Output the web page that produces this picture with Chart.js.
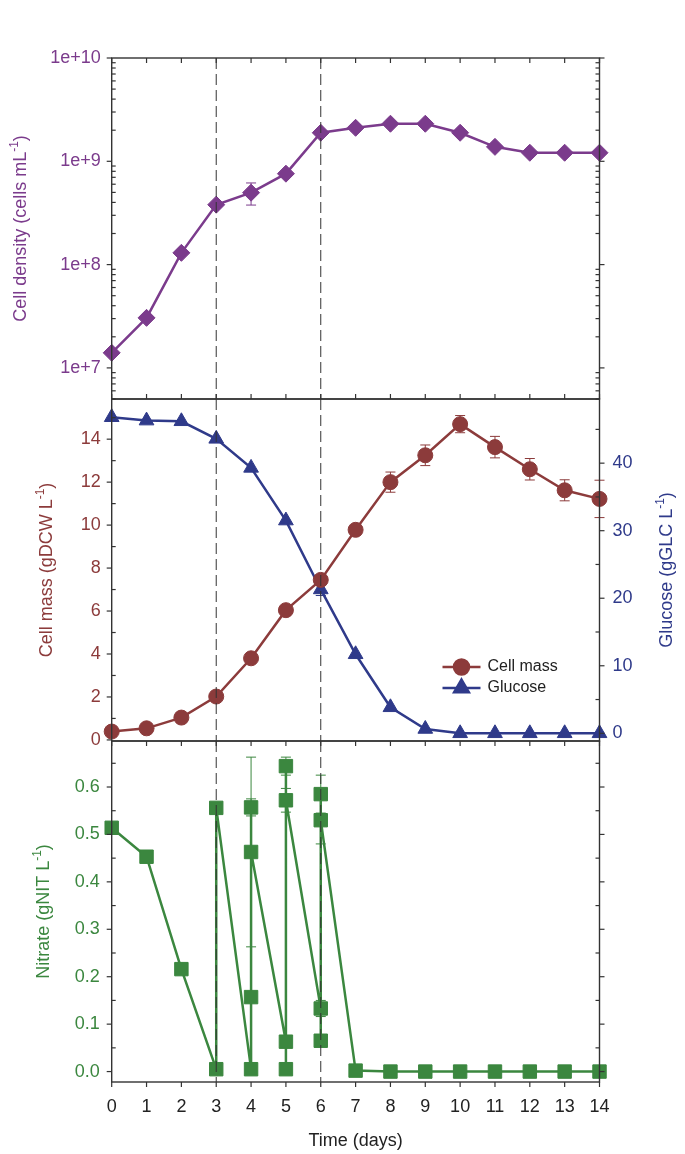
<!DOCTYPE html>
<html>
<head>
<meta charset="utf-8">
<script src="https://cdn.jsdelivr.net/npm/chart.js@4.4.1/dist/chart.umd.min.js"></script>
<style>
    html, body { margin: 0; padding: 0; background: #fff; }
    #wrap { position: relative; width: 685px; height: 1154px; }
    #wrap canvas { position: absolute; left: 0; top: 0; }
</style>
</head>
<body>
<div id="wrap">
    <canvas id="density" width="685" height="1154"></canvas>
    <canvas id="mass" width="685" height="1154"></canvas>
    <canvas id="nitrate" width="685" height="1154"></canvas>
</div>
<script>
// ---- data ----
const days = [0, 1, 2, 3, 4, 5, 6, 7, 8, 9, 10, 11, 12, 13, 14];
const feedDays = [3, 6];

const cellDensity = [1.40e7, 3.05e7, 1.30e8, 3.80e8, 4.97e8, 7.59e8, 1.89e9, 2.11e9, 2.31e9, 2.31e9, 1.89e9, 1.38e9, 1.21e9, 1.21e9, 1.21e9];
const cellDensityErr = [0, 0, 0, 0, 1.2e8, 0, 0, 1.5e8, 0, 0, 0, 0, 0, 0, 0];

const cellMass = [0.39, 0.54, 1.04, 2.02, 3.80, 6.04, 7.45, 9.78, 12.0, 13.25, 14.7, 13.63, 12.6, 11.62, 11.22];
const cellMassErr = [0, 0, 0, 0, 0, 0, 0, 0, 0.47, 0.48, 0.4, 0.5, 0.5, 0.49, 0.87];

const glucose = [46.8, 46.3, 46.2, 43.6, 39.3, 31.5, 21.3, 11.7, 3.85, 0.64, 0, 0, 0, 0, 0];
const glucoseErr = [0, 0, 0, 0, 0, 0, 0.9, 0, 0, 0, 0, 0, 0, 0, 0];

// nitrate was sampled before and after each feed, so days repeat
const nitrateDays = [0, 1, 2, 3, 3, 4, 4, 4, 4, 5, 5, 5, 5, 6, 6, 6, 6, 7, 8, 9, 10, 11, 12, 13, 14];
const nitrate = [0.514, 0.453, 0.216, 0.005, 0.556, 0.005, 0.157, 0.557, 0.463, 0.063, 0.005, 0.644, 0.572, 0.133, 0.065, 0.585, 0.530, 0.002, 0, 0, 0, 0, 0, 0, 0];
const nitrateErr = [0, 0, 0, 0, 0, 0, 0, 0.018, 0.2, 0, 0, 0.019, 0.025, 0.017, 0, 0.04, 0.05, 0, 0, 0, 0, 0, 0, 0, 0];

// tick labels
const densityTicks = [1e7, 1e8, 1e9, 1e10];
const massTicks = [0, 2, 4, 6, 8, 10, 12, 14];
const glucoseTicks = [0, 10, 20, 30, 40];
const nitrateTicks = [0, 0.1, 0.2, 0.3, 0.4, 0.5, 0.6];

const PURPLE = "#7b3b8c";
const BROWN = "#8c3b3b";
const NAVY = "#2f3a8a";
const GREEN = "#3b873f";
const INK = "#222";
const FONT = "'Liberation Sans', Arial, sans-serif";

Chart.defaults.font.family = FONT;
Chart.defaults.font.size = 18;
Chart.defaults.animation = false;

const range = (from, to, step) => {
    const out = [];
    for (let v = from; v <= to + 1e-9; v += step) out.push(+v.toFixed(4));
    return out;
};
const logMinor = [];
for (let e = 6; e <= 9; e++) for (let m = 2; m <= 9; m++) logMinor.push(m * 10 ** e);

const toPoints = (xs, ys) => xs.map((x, i) => ({ x, y: ys[i] }));

// ---- plugins ----
const errorBars = {
    id: "errorBars",
    beforeDatasetsDraw(chart) {
        const { ctx } = chart;
        chart.data.datasets.forEach((ds, i) => {
            if (!ds.errors) return;
            const meta = chart.getDatasetMeta(i);
            const ys = chart.scales[meta.yAxisID];
            ctx.save();
            ctx.strokeStyle = ds.borderColor;
            ctx.lineWidth = 1;
            ds.data.forEach((p, j) => {
                const e = ds.errors[j];
                if (!e) return;
                const x = meta.data[j].x;
                const top = ys.getPixelForValue(p.y + e);
                const bot = ys.getPixelForValue(p.y - e);
                ctx.beginPath();
                ctx.moveTo(x, top);
                ctx.lineTo(x, bot);
                ctx.moveTo(x - 5, top);
                ctx.lineTo(x + 5, top);
                ctx.moveTo(x - 5, bot);
                ctx.lineTo(x + 5, bot);
                ctx.stroke();
            });
            ctx.restore();
        });
    },
};

const makeFrame = (cfg) => ({
    id: "panelFrame",
    afterDatasetsDraw(chart) {
        const { ctx, chartArea: a, scales } = chart;
        const seg = (x1, y1, x2, y2) => {
            ctx.beginPath();
            ctx.moveTo(x1, y1);
            ctx.lineTo(x2, y2);
            ctx.stroke();
        };
        ctx.save();
        ctx.strokeStyle = "#333";
        ctx.lineWidth = 1;
        ctx.setLineDash([11, 5]);
        feedDays.forEach((d) => {
            const x = scales.x.getPixelForValue(d);
            seg(x, a.top, x, a.bottom);
        });
        ctx.setLineDash([]);
        ctx.lineWidth = 1.4;
        ctx.strokeRect(a.left, a.top, a.width, a.height);
        ctx.lineWidth = 1.2;
        days.forEach((d) => {
            const x = scales.x.getPixelForValue(d);
            if (cfg.topTicks) seg(x, a.top, x, a.top + 5);
            if (cfg.bottomTicks === "in") seg(x, a.bottom, x, a.bottom - 5);
            if (cfg.bottomTicks === "out") seg(x, a.bottom, x, a.bottom + 5);
        });
        cfg.sides.forEach(({ id, minor, dir }) => {
            const s = scales[id];
            const x0 = dir < 0 ? a.left : a.right;
            s.ticks.forEach((t) => {
                const y = s.getPixelForValue(t.value);
                seg(x0, y, x0 + dir * 5, y);
            });
            minor.forEach((v) => {
                const y = s.getPixelForValue(v);
                if (y >= a.top - 0.5 && y <= a.bottom + 0.5) seg(x0, y, x0 - dir * 4, y);
            });
        });
        ctx.restore();
    },
});

const drawRotated = (ctx, x, y, parts, color) => {
    const big = `18px ${FONT}`;
    const small = `12px ${FONT}`;
    ctx.save();
    ctx.translate(x, y);
    ctx.rotate(-Math.PI / 2);
    ctx.fillStyle = color;
    ctx.textBaseline = "middle";
    ctx.textAlign = "left";
    const widths = parts.map((p, i) => {
        ctx.font = i % 2 ? small : big;
        return ctx.measureText(p).width;
    });
    let pos = -widths.reduce((s, w) => s + w, 0) / 2;
    parts.forEach((p, i) => {
        ctx.font = i % 2 ? small : big;
        ctx.fillText(p, pos, i % 2 ? -6 : 0);
        pos += widths[i];
    });
    ctx.restore();
};

const makeTitles = (items) => ({
    id: "axisTitles",
    afterDraw(chart) {
        const a = chart.chartArea;
        const cy = (a.top + a.bottom) / 2;
        items.forEach((t) => drawRotated(chart.ctx, t.x, cy, t.parts, t.color));
    },
});

const makeLegend = () => ({
    id: "seriesLegend",
    afterDraw(chart) {
        const { ctx, chartArea: a } = chart;
        chart.data.datasets.forEach((ds, i) => {
            const y = a.bottom - 74 + i * 21;
            const x0 = a.right - 157;
            ctx.save();
            ctx.strokeStyle = ds.borderColor;
            ctx.fillStyle = ds.borderColor;
            ctx.lineWidth = 2.5;
            ctx.beginPath();
            ctx.moveTo(x0, y);
            ctx.lineTo(x0 + 38, y);
            ctx.stroke();
            Chart.helpers.drawPoint(ctx, { pointStyle: ds.pointStyle, radius: ds.pointRadius, borderWidth: 1, rotation: 0 }, x0 + 19, y);
            ctx.fillStyle = INK;
            ctx.font = `16px ${FONT}`;
            ctx.textBaseline = "middle";
            ctx.fillText(ds.label, x0 + 45, y);
            ctx.restore();
        });
    },
});

// ---- shared scale helpers ----
const xScale = (show) => ({
    type: "linear",
    min: 0,
    max: 14,
    display: show,
    grid: { display: false, drawTicks: false },
    border: { display: false },
    afterBuildTicks: (s) => { s.ticks = days.map((v) => ({ value: v })); },
    afterFit: (s) => { if (show) s.height = 72; },
    ticks: { color: INK, padding: 14, autoSkip: false, maxRotation: 0 },
    title: { display: true, text: "Time (days)", color: INK, font: { size: 18 }, padding: { top: 0, bottom: 2 } },
});

const yScale = (opts) => ({
    position: opts.position || "left",
    grid: { display: false, drawTicks: false },
    border: { display: false },
    afterBuildTicks: (s) => { s.ticks = opts.ticks.map((v) => ({ value: v })); },
    afterFit: (s) => { s.width = opts.width; },
    ...opts.extra,
    ticks: { color: opts.color, padding: opts.padding, autoSkip: false, callback: opts.format },
});

const lineSet = (label, data, color, style, radius, errors, axis) => ({
    label,
    data,
    errors,
    yAxisID: axis || "y",
    borderColor: color,
    backgroundColor: color,
    pointBackgroundColor: color,
    pointBorderColor: color,
    pointStyle: style,
    pointRadius: radius,
    pointBorderWidth: 1,
    borderWidth: 2.5,
    tension: 0,
    clip: false,
});

const baseOptions = (padding, scales) => ({
    responsive: false,
    animation: false,
    events: [],
    layout: { padding },
    plugins: { legend: { display: false }, tooltip: { enabled: false } },
    scales,
});

// ---- top: cell density ----
new Chart(document.getElementById("density"), {
    type: "line",
    data: { datasets: [lineSet("Cell density", toPoints(days, cellDensity), PURPLE, "rectRot", 8.5, cellDensityErr)] },
    options: baseOptions({ top: 58, bottom: 755, left: 0, right: 85.5 }, {
        x: xScale(false),
        y: yScale({
            ticks: densityTicks, width: 111.7, color: PURPLE, padding: 11,
            format: (v) => "1e+" + Math.round(Math.log10(v)),
            extra: { type: "logarithmic", min: 5e6, max: 1e10 },
        }),
    }),
    plugins: [
        errorBars,
        makeFrame({ topTicks: true, bottomTicks: "in", sides: [{ id: "y", minor: logMinor, dir: -1 }, { id: "y", minor: logMinor, dir: 1 }] }),
        makeTitles([{ x: 21, color: PURPLE, parts: ["Cell density (cells mL", "-1", ")"] }]),
    ],
});

// ---- middle: cell mass and glucose ----
new Chart(document.getElementById("mass"), {
    type: "line",
    data: {
        datasets: [
            lineSet("Cell mass", toPoints(days, cellMass), BROWN, "circle", 7.5, cellMassErr, "y"),
            lineSet("Glucose", toPoints(days, glucose), NAVY, "triangle", 8.5, glucoseErr, "g"),
        ],
    },
    options: baseOptions({ top: 399, bottom: 413, left: 0, right: 0 }, {
        x: xScale(false),
        y: yScale({
            ticks: massTicks, width: 111.7, color: BROWN, padding: 11,
            format: (v) => String(v),
            extra: { type: "linear", min: -0.05, max: 15.87 },
        }),
        g: yScale({
            position: "right", ticks: glucoseTicks, width: 85.5, color: NAVY, padding: 13,
            format: (v) => String(v),
            extra: { type: "linear", min: -1.14, max: 49.5 },
        }),
    }),
    plugins: [
        errorBars,
        makeFrame({ topTicks: false, bottomTicks: null, sides: [{ id: "y", minor: range(1, 15, 2), dir: -1 }, { id: "g", minor: range(5, 45, 10), dir: 1 }] }),
        makeTitles([
            { x: 47, color: BROWN, parts: ["Cell mass (gDCW L", "-1", ")"] },
            { x: 667, color: NAVY, parts: ["Glucose (gGLC L", "-1", ")"] },
        ]),
        makeLegend(),
    ],
});

// ---- bottom: nitrate ----
new Chart(document.getElementById("nitrate"), {
    type: "line",
    data: { datasets: [lineSet("Nitrate", toPoints(nitrateDays, nitrate), GREEN, "rect", 9.5, nitrateErr)] },
    options: baseOptions({ top: 741, bottom: 0, left: 0, right: 85.5 }, {
        x: xScale(true),
        y: yScale({
            ticks: nitrateTicks, width: 111.7, color: GREEN, padding: 12,
            format: (v) => v.toFixed(1),
            extra: { type: "linear", min: -0.022, max: 0.697 },
        }),
    }),
    plugins: [
        errorBars,
        makeFrame({ topTicks: true, bottomTicks: "out", sides: [{ id: "y", minor: range(0.05, 0.65, 0.1), dir: -1 }, { id: "y", minor: range(0.05, 0.65, 0.1), dir: 1 }] }),
        makeTitles([{ x: 44, color: GREEN, parts: ["Nitrate (gNIT L", "-1", ")"] }]),
    ],
});
</script>
</body>
</html>
